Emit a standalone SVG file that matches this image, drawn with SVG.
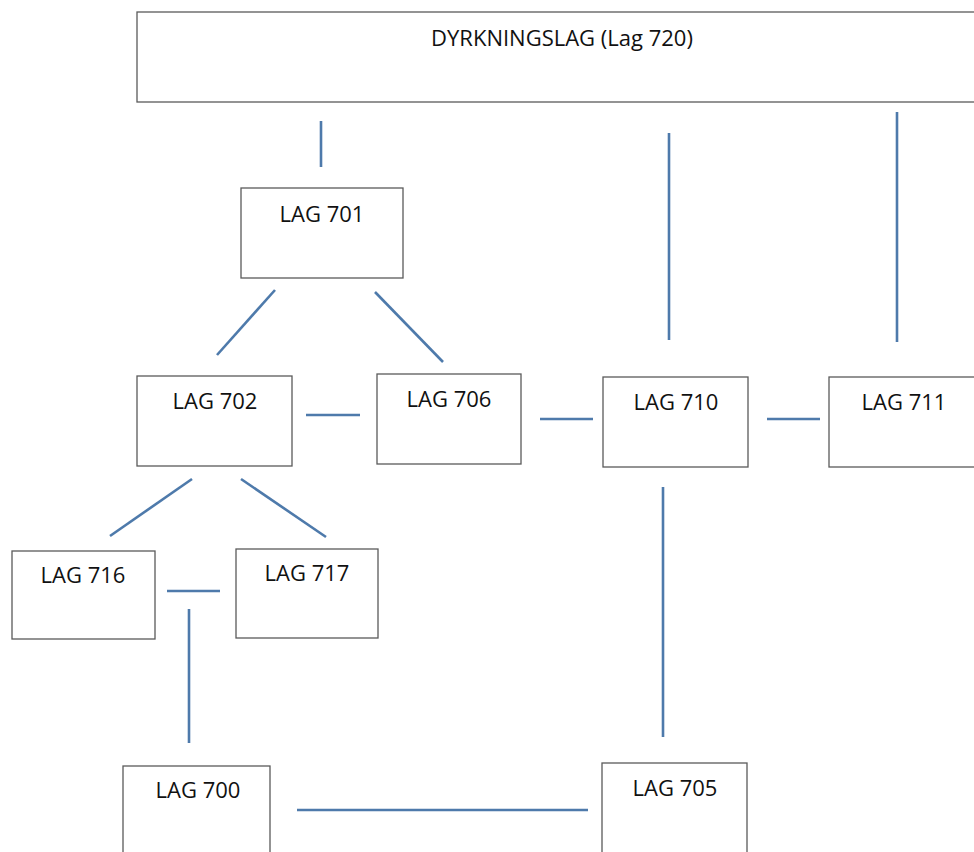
<svg xmlns="http://www.w3.org/2000/svg" width="974" height="852" viewBox="0 0 974 852">
<style>
.box{fill:#fff;stroke:#5a5a5a;stroke-width:1.3}
.lbl{font-family:"Open Sans","Liberation Sans",sans-serif;font-size:22px;fill:#111;text-anchor:middle}
.conn line{stroke:#4e7aab;stroke-width:2.6;stroke-linecap:butt}
</style>
<rect width="974" height="852" fill="#fff"/>
<g id="lag720"><rect class="box" x="137" y="12" width="845" height="90"/><text class="lbl" x="562" y="46">DYRKNINGSLAG (Lag 720)</text></g>
<g id="lag701"><rect class="box" x="241" y="188" width="162" height="90"/><text class="lbl" x="322" y="222">LAG 701</text></g>
<g id="lag702"><rect class="box" x="137" y="376" width="155" height="90"/><text class="lbl" x="215" y="409">LAG 702</text></g>
<g id="lag706"><rect class="box" x="377" y="374" width="144" height="90"/><text class="lbl" x="449" y="407">LAG 706</text></g>
<g id="lag710"><rect class="box" x="603" y="377" width="145" height="90"/><text class="lbl" x="676" y="410">LAG 710</text></g>
<g id="lag711"><rect class="box" x="829" y="377" width="153" height="90"/><text class="lbl" x="904" y="410">LAG 711</text></g>
<g id="lag716"><rect class="box" x="12" y="551" width="143" height="88"/><text class="lbl" x="83" y="583">LAG 716</text></g>
<g id="lag717"><rect class="box" x="236" y="549" width="142" height="89"/><text class="lbl" x="307" y="581">LAG 717</text></g>
<g id="lag700"><rect class="box" x="123" y="766" width="147" height="100"/><text class="lbl" x="198" y="798">LAG 700</text></g>
<g id="lag705"><rect class="box" x="602" y="763" width="145" height="100"/><text class="lbl" x="675" y="796">LAG 705</text></g>
<g id="connectors" class="conn">
<line x1="321" y1="121" x2="321" y2="167"/>
<line x1="669" y1="133" x2="669" y2="340"/>
<line x1="897" y1="112" x2="897" y2="342"/>
<line x1="275" y1="290" x2="217" y2="355"/>
<line x1="375" y1="292" x2="443" y2="362"/>
<line x1="306" y1="415" x2="360" y2="415"/>
<line x1="540" y1="419" x2="593" y2="419"/>
<line x1="767" y1="419" x2="820" y2="419"/>
<line x1="192" y1="479" x2="110" y2="536"/>
<line x1="241" y1="479" x2="326" y2="537"/>
<line x1="167" y1="591" x2="220" y2="591"/>
<line x1="189" y1="609" x2="189" y2="743"/>
<line x1="663" y1="487" x2="663" y2="737"/>
<line x1="297" y1="810" x2="588" y2="810"/>
</g>
</svg>
